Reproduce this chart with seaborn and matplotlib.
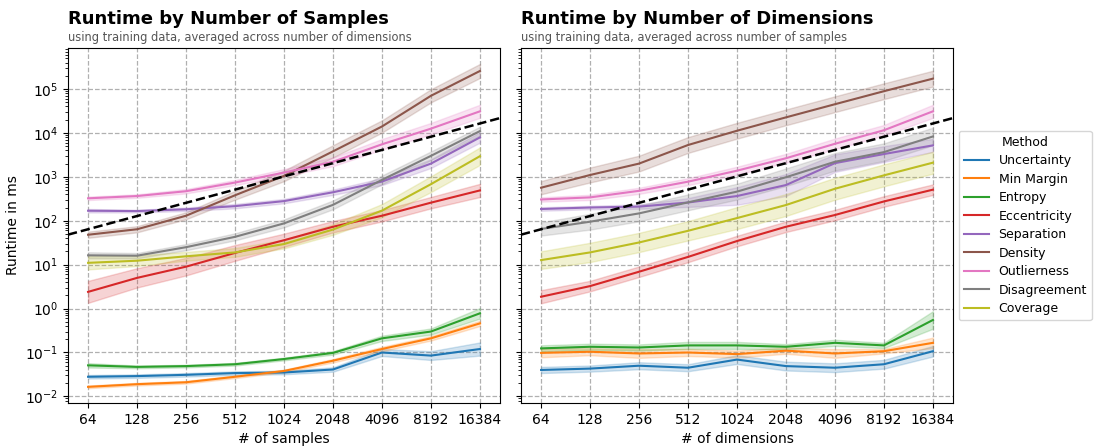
import numpy as np
import pandas as pd
import matplotlib
matplotlib.use("Agg")
import matplotlib.pyplot as plt
import seaborn as sns

# ---------------- data ----------------
sizes = [64, 128, 256, 512, 1024, 2048, 4096, 8192, 16384]
size_labels = ["64", "128", "256", "512", "1024", "2048", "4096", "8192", "16384"]
methods = ["Uncertainty", "Min Margin", "Entropy", "Eccentricity", "Separation",
           "Density", "Outlierness", "Disagreement", "Coverage"]

# runtime (ms) by number of samples
samp_uncertainty = [0.028, 0.029, 0.031, 0.034, 0.035, 0.041, 0.10, 0.085, 0.12]
samp_min_margin = [0.0165, 0.019, 0.021, 0.028, 0.038, 0.065, 0.12, 0.21, 0.46]
samp_entropy = [0.051, 0.047, 0.049, 0.054, 0.071, 0.098, 0.21, 0.30, 0.78]
samp_eccentricity = [2.4, 5.0, 9.0, 18.5, 36, 73, 130, 258, 490]
samp_separation = [169, 166, 182, 215, 280, 445, 780, 2000, 7900]
samp_density = [48, 64, 130, 380, 1050, 3800, 14000, 70000, 257000]
samp_outlierness = [324, 365, 470, 740, 1250, 2200, 5500, 12500, 31000]
samp_disagreement = [16.3, 16, 25, 43, 87, 230, 850, 3000, 11000]
samp_coverage = [11, 12.3, 15.5, 19, 29.5, 63, 170, 680, 2950]

# band half-widths (log10 units) by number of samples
samp_band_uncertainty = [0.04, 0.04, 0.04, 0.04, 0.04, 0.05, 0.08, 0.10, 0.15]
samp_band_min_margin = [0.03, 0.03, 0.03, 0.03, 0.03, 0.04, 0.05, 0.05, 0.06]
samp_band_entropy = [0.05, 0.03, 0.03, 0.03, 0.03, 0.04, 0.06, 0.07, 0.12]
samp_band_eccentricity = [0.25, 0.22, 0.20, 0.18, 0.15, 0.13, 0.13, 0.13, 0.15]
samp_band_separation = [0.04, 0.03, 0.04, 0.05, 0.05, 0.06, 0.08, 0.10, 0.12]
samp_band_density = [0.07, 0.07, 0.08, 0.10, 0.12, 0.14, 0.14, 0.15, 0.16]
samp_band_outlierness = [0.04, 0.04, 0.05, 0.06, 0.08, 0.10, 0.12, 0.13, 0.15]
samp_band_disagreement = [0.07, 0.06, 0.07, 0.08, 0.09, 0.10, 0.10, 0.10, 0.10]
samp_band_coverage = [0.15, 0.12, 0.10, 0.10, 0.10, 0.12, 0.15, 0.18, 0.20]

# runtime (ms) by number of dimensions
dim_uncertainty = [0.040, 0.043, 0.050, 0.045, 0.069, 0.049, 0.045, 0.054, 0.107]
dim_min_margin = [0.098, 0.104, 0.095, 0.100, 0.092, 0.110, 0.095, 0.107, 0.166]
dim_entropy = [0.124, 0.135, 0.130, 0.145, 0.145, 0.135, 0.166, 0.145, 0.55]
dim_eccentricity = [1.86, 3.25, 6.9, 15, 34.5, 73, 135, 275, 510]
dim_separation = [185, 200, 210, 260, 365, 650, 2050, 3300, 5200]
dim_density = [565, 1100, 2000, 5300, 11200, 22600, 45000, 89000, 172000]
dim_outlierness = [305, 340, 480, 775, 1380, 2650, 5650, 11500, 31000]
dim_disagreement = [65, 95, 147, 262, 460, 980, 2200, 3650, 8300]
dim_coverage = [12.7, 19, 32, 59, 115, 228, 535, 1080, 2100]

# band half-widths (log10 units) by number of dimensions
dim_band_uncertainty = [0.07, 0.07, 0.08, 0.08, 0.10, 0.10, 0.10, 0.10, 0.12]
dim_band_min_margin = [0.10, 0.08, 0.10, 0.08, 0.08, 0.07, 0.10, 0.05, 0.12]
dim_band_entropy = [0.07, 0.07, 0.07, 0.08, 0.08, 0.06, 0.07, 0.06, 0.20]
dim_band_eccentricity = [0.15, 0.12, 0.12, 0.12, 0.12, 0.12, 0.12, 0.12, 0.12]
dim_band_separation = [0.04, 0.04, 0.05, 0.10, 0.20, 0.25, 0.20, 0.18, 0.15]
dim_band_density = [0.15, 0.17, 0.18, 0.18, 0.18, 0.18, 0.18, 0.18, 0.18]
dim_band_outlierness = [0.05, 0.06, 0.07, 0.08, 0.09, 0.10, 0.12, 0.12, 0.15]
dim_band_disagreement = [0.15, 0.18, 0.18, 0.18, 0.18, 0.20, 0.20, 0.20, 0.20]
dim_band_coverage = [0.20, 0.22, 0.22, 0.22, 0.25, 0.25, 0.25, 0.25, 0.25]

samp_vals = [samp_uncertainty, samp_min_margin, samp_entropy, samp_eccentricity,
             samp_separation, samp_density, samp_outlierness, samp_disagreement, samp_coverage]
samp_bands = [samp_band_uncertainty, samp_band_min_margin, samp_band_entropy,
              samp_band_eccentricity, samp_band_separation, samp_band_density,
              samp_band_outlierness, samp_band_disagreement, samp_band_coverage]
dim_vals = [dim_uncertainty, dim_min_margin, dim_entropy, dim_eccentricity,
            dim_separation, dim_density, dim_outlierness, dim_disagreement, dim_coverage]
dim_bands = [dim_band_uncertainty, dim_band_min_margin, dim_band_entropy,
             dim_band_eccentricity, dim_band_separation, dim_band_density,
             dim_band_outlierness, dim_band_disagreement, dim_band_coverage]


def long_frame(vals, bands):
    rows = []
    for m, v, b in zip(methods, vals, bands):
        for x, y, h in zip(sizes, v, b):
            for k in (-1, 0, 1):
                rows.append({"size": x, "Method": m, "runtime": y * 10 ** (k * h)})
    return pd.DataFrame(rows)


df_samp = long_frame(samp_vals, samp_bands)
df_dim = long_frame(dim_vals, dim_bands)

# ---------------- figure ----------------
W, H = 1094, 446
fig = plt.figure(figsize=(W / 100, H / 100), dpi=100)
ax_bottom = (H - 403) / H
ax_height = (403 - 47.7) / H
ax1 = fig.add_axes([68 / W, ax_bottom, 432 / W, ax_height])
ax2 = fig.add_axes([521 / W, ax_bottom, 432 / W, ax_height], sharey=ax1)

palette = sns.color_palette("tab10", len(methods))

for ax, df, legend in ((ax1, df_samp, False), (ax2, df_dim, True)):
    sns.lineplot(data=df, x="size", y="runtime", hue="Method", hue_order=methods,
                 palette=palette, estimator="median", errorbar=("pi", 100),
                 linewidth=1.5, ax=ax, legend=legend)
    ax.set_xscale("log", base=2)
    ax.set_yscale("log")
    ax.set_xticks(sizes, size_labels)
    ax.xaxis.set_minor_locator(matplotlib.ticker.NullLocator())
    ax.set_xlim(2 ** 5.59, 2 ** 14.41)
    ax.set_ylim(10 ** -2.15, 10 ** 5.94)
    ax.axline((64, 64), (16384, 16384), color="black", linestyle="--", linewidth=1.8, zorder=5)
    ax.grid(True, which="major", linestyle="--", color="#b0b0b0", linewidth=0.9)
    ax.set_axisbelow(True)
    ax.tick_params(labelsize=10)

ax1.set_xlabel("# of samples", fontsize=10)
ax2.set_xlabel("# of dimensions", fontsize=10)
ax1.set_ylabel("Runtime in ms", fontsize=10)
ax2.set_ylabel("")
ax2.tick_params(labelleft=False)

sns.move_legend(ax2, "center left", bbox_to_anchor=(1.013, 0.5), borderaxespad=0,
                title="Method", fontsize=9, title_fontsize=9, labelspacing=0.44)

fig.text(68 / W, 1 - 23.5 / H, "Runtime by Number of Samples", fontsize=13,
         fontweight="bold", ha="left", va="baseline")
fig.text(68 / W, 1 - 40.5 / H, "using training data, averaged across number of dimensions",
         fontsize=8.3, color="#555555", ha="left", va="baseline")
fig.text(521 / W, 1 - 23.5 / H, "Runtime by Number of Dimensions", fontsize=13,
         fontweight="bold", ha="left", va="baseline")
fig.text(521 / W, 1 - 40.5 / H, "using training data, averaged across number of samples",
         fontsize=8.3, color="#555555", ha="left", va="baseline")

fig.savefig("out.png", dpi=100)
